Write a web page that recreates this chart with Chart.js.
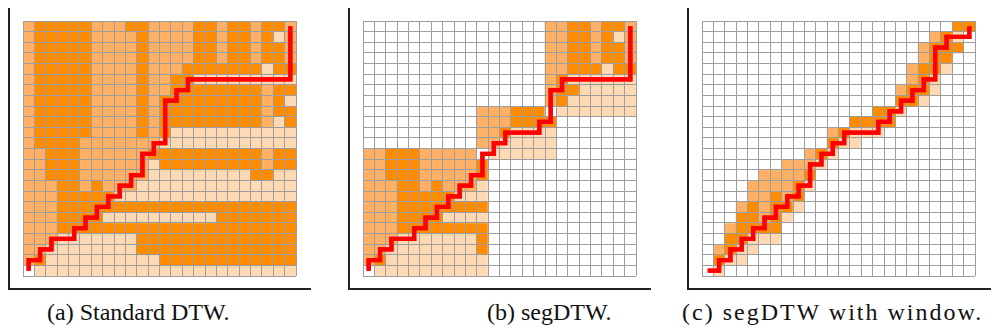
<!DOCTYPE html>
<html>
<head>
<meta charset="utf-8">
<script src="https://cdn.jsdelivr.net/npm/chart.js@4/dist/chart.umd.min.js"></script>
<style>
  html, body { margin: 0; padding: 0; background: #ffffff; width: 994px; height: 334px; overflow: hidden; }
  .axis { position: absolute; box-sizing: border-box; border-left: 2px solid #222; border-bottom: 2px solid #222; }
  .plot { position: absolute; }
  .cap { position: absolute; font-family: "Liberation Serif", "Times New Roman", serif; font-size: 24px; line-height: 24px; color: #111; white-space: nowrap; }
</style>
</head>
<body>
<div class="axis" style="left:8px;top:8px;width:303px;height:282px;"></div>
<div class="axis" style="left:348px;top:8px;width:303px;height:282px;"></div>
<div class="axis" style="left:687px;top:8px;width:304px;height:282px;"></div>
<canvas id="c1" class="plot" width="277" height="259" style="left:21px;top:19px;"></canvas>
<canvas id="c2" class="plot" width="277" height="259" style="left:361px;top:19px;"></canvas>
<canvas id="c3" class="plot" width="277" height="259" style="left:700px;top:19px;"></canvas>
<div class="cap" id="cap1" style="left:47px;top:300px;"></div>
<div class="cap" id="cap2" style="left:487px;top:300px;"></div>
<div class="cap" id="cap3" style="left:682px;top:300px;letter-spacing:2px;"></div>
<script>
// ---- data ----
const columns = [0,1,2,3,4,5,6,7,8,9,10,11,12,13,14,15,16,17,18,19,20,21,22,23];
const rows = [0,1,2,3,4,5,6,7,8,9,10,11,12,13,14,15,16,17,18,19,20,21,22,23]; // 0 = top row
const captions = ["(a) Standard DTW.", "(b) segDTW.", "(c) segDTW with window."];

// cell cost level per row (top to bottom): D = high, M = medium, L = low, '.' / W = not computed
const standardDTW = [
  "MDDDDDMMMDDMMMMDDMDDMDDM",
  "MDDDDDMMMMDMMMMDDMDDMDLM",
  "MDDDDDMMMMDMMMMDDMDDMDDM",
  "MDDDDDMMMMDMMMMDDMDDMDDM",
  "MDDDDDMMMMDMMMDDDDDDDLDD",
  "MDDDDDMMMMDMMDDLLLLLLLLL",
  "MDDDDDMMMMDMMDDDDDDDDMDD",
  "MDDDDDMMMMDMDDDDDDDDDMDL",
  "MDDDDDMMMMDMDDDDDDDDDMDD",
  "MDDDDDMMMMDMDDDDDDDDDMLD",
  "MDDDDDMMMMDMDLLLLLLLLLLL",
  "MDDDDMMMMMMMLLLLLLLLLLLL",
  "MMDDDMMMMMMDDDDDDDDDDMDD",
  "MMDDDMMMMMMLDDDDDDDDDMDD",
  "MMDDDMMMMMMLLLLLLLLLDDLL",
  "MMMDDMDMMMLLLLLLLLLLLLLL",
  "MMMDDDDDLLLLLLLLLLLLLLLL",
  "MMMDDDDDDDDDDDDDDDDDDDDD",
  "MMMDDDDLLLLLLLLLLDDDDDDD",
  "MMMDDDDDDDDDDDDDDDDDDDDD",
  "MMMLLLLLLLDDDDDDDDDDDDDD",
  "MMLLLLLLLLDDDDDDDDDDDDDD",
  "MDLLLLLLLLLLDDDDDDDDDDDD",
  "WLLLLLLLLLLLLLLLLLLLLLLL"
];
const segDTW = [
  "................MMDDMDDM",
  "................MMDDMDLM",
  "................MMDDMDDM",
  "................MMDDMDDM",
  "................MMDDDLDD",
  "................MDLLLLLL",
  "................MDDLLLLL",
  "................MDLLLLLL",
  "..........MMMDDD.LLLLLLL",
  "..........MMMDDDD.......",
  "..........MMDLLLL.......",
  "..........MMLLLLL.......",
  "MMDDDMMMMM.LLLLLL.......",
  "MMDDDMMMMMD.............",
  "MMDDDMMMMMD.............",
  "MMMDDMDMMML.............",
  "MMMDDDDDLLL.............",
  "MMMDDDDDDDD.............",
  "MMMDDDDLLLL.............",
  "MMMDDDDDDDD.............",
  "MMMLLLLLLLD.............",
  "MMLLLLLLLLD.............",
  "MDLLLLLLLLL.............",
  ".LLLLLLLLLL............."
];
const segDTWWindow = [
  "......................DD",
  "....................MDL.",
  "...................MDDD.",
  "...................MDD..",
  "..................MDDL..",
  "..................MDL...",
  ".................MDDL...",
  ".................DDL....",
  "...............DDL......",
  ".............DDDD.......",
  "...........MDLLL........",
  "...........DLL..........",
  ".........MDL............",
  ".......MMML.............",
  ".....MMMMD..............",
  "....MMMMDL..............",
  "....MMDMD...............",
  "...MDMDDL...............",
  "...DDMDL................",
  "..MDDDD.................",
  "..DDLLL.................",
  ".MDLL...................",
  ".DLL....................",
  ".L......................"
];

// warping paths: [column, row from top]
const pathStandard = [[0,23],[0,22],[1,22],[1,21],[2,21],[2,20],[4,20],[4,19],[5,19],[5,18],[6,18],[6,17],[7,17],[7,16],[8,16],[8,15],[9,15],[9,14],[10,14],[10,12],[11,12],[11,11],[12,11],[12,7],[13,7],[13,6],[14,6],[14,5],[23,5],[23,0]];
const pathSeg = [[0,23],[0,22],[1,22],[1,21],[2,21],[2,20],[4,20],[4,19],[5,19],[5,18],[6,18],[6,17],[7,17],[7,16],[8,16],[8,15],[9,15],[9,14],[10,14],[10,12],[11,12],[11,11],[12,11],[12,10],[15,10],[15,9],[16,9],[16,6],[17,6],[17,5],[23,5],[23,0]];
const pathWindow = [[0,23],[1,23],[1,22],[2,22],[2,21],[3,21],[3,20],[4,20],[4,19],[5,19],[5,18],[6,18],[6,17],[7,17],[7,16],[8,16],[8,15],[9,15],[9,13],[10,13],[10,12],[11,12],[11,11],[12,11],[12,10],[15,10],[15,9],[16,9],[16,8],[17,8],[17,7],[18,7],[18,6],[19,6],[19,5],[20,5],[20,2],[21,2],[21,1],[23,1],[23,0]];

// ---- styles ----
const levelColor = { 'D': '#ff8c00', 'M': '#ffb064', 'L': '#ffd9b3', 'W': '#ffffff', '.': '#ffffff' };
const gridColor = '#9d9d9d';
const nCells = columns.length;

const pathOnTop = {
  id: 'pathOnTop',
  afterDraw(chart) {
    chart.data.datasets.forEach((ds, i) => {
      if (ds.type === 'line') chart.getDatasetMeta(i).controller.draw();
    });
  }
};

function buildChart(id, matrix, path) {
  const datasets = rows.map(r => {
    const yb = nCells - 1 - r;
    const line = matrix[r];
    return {
      type: 'bar',
      data: columns.map(c => ({ x: c + 0.5, y: [yb, yb + 1] })),
      backgroundColor: columns.map(c => levelColor[line.charAt(c)] || '#ffffff'),
      borderWidth: 0,
      barPercentage: 1,
      categoryPercentage: 1,
      grouped: false,
      order: 2
    };
  });
  datasets.push({
    type: 'line',
    data: path.map(p => ({ x: p[0] + 0.5, y: nCells - 1 - p[1] + 0.5 })),
    borderColor: '#ff0000',
    borderWidth: 4.3,
    pointRadius: 0,
    tension: 0,
    fill: false,
    borderJoinStyle: 'miter',
    borderCapStyle: 'butt',
    clip: false,
    order: 0
  });
  const axisOpts = {
    type: 'linear', min: 0, max: nCells, offset: false,
    ticks: { stepSize: 1, display: false },
    grid: { color: gridColor, lineWidth: 1, drawTicks: false, offset: false, z: 1 },
    border: { display: false }
  };
  return new Chart(document.getElementById(id), {
    type: 'bar',
    data: { datasets },
    options: {
      responsive: false,
      animation: false,
      events: [],
      layout: { padding: 2 },
      plugins: { legend: { display: false }, tooltip: { enabled: false }, title: { display: false } },
      scales: { x: axisOpts, y: JSON.parse(JSON.stringify(axisOpts)) }
    },
    plugins: [pathOnTop]
  });
}

buildChart('c1', standardDTW, pathStandard);
buildChart('c2', segDTW, pathSeg);
buildChart('c3', segDTWWindow, pathWindow);
document.getElementById('cap1').textContent = captions[0];
document.getElementById('cap2').textContent = captions[1];
document.getElementById('cap3').textContent = captions[2];
</script>
</body>
</html>
